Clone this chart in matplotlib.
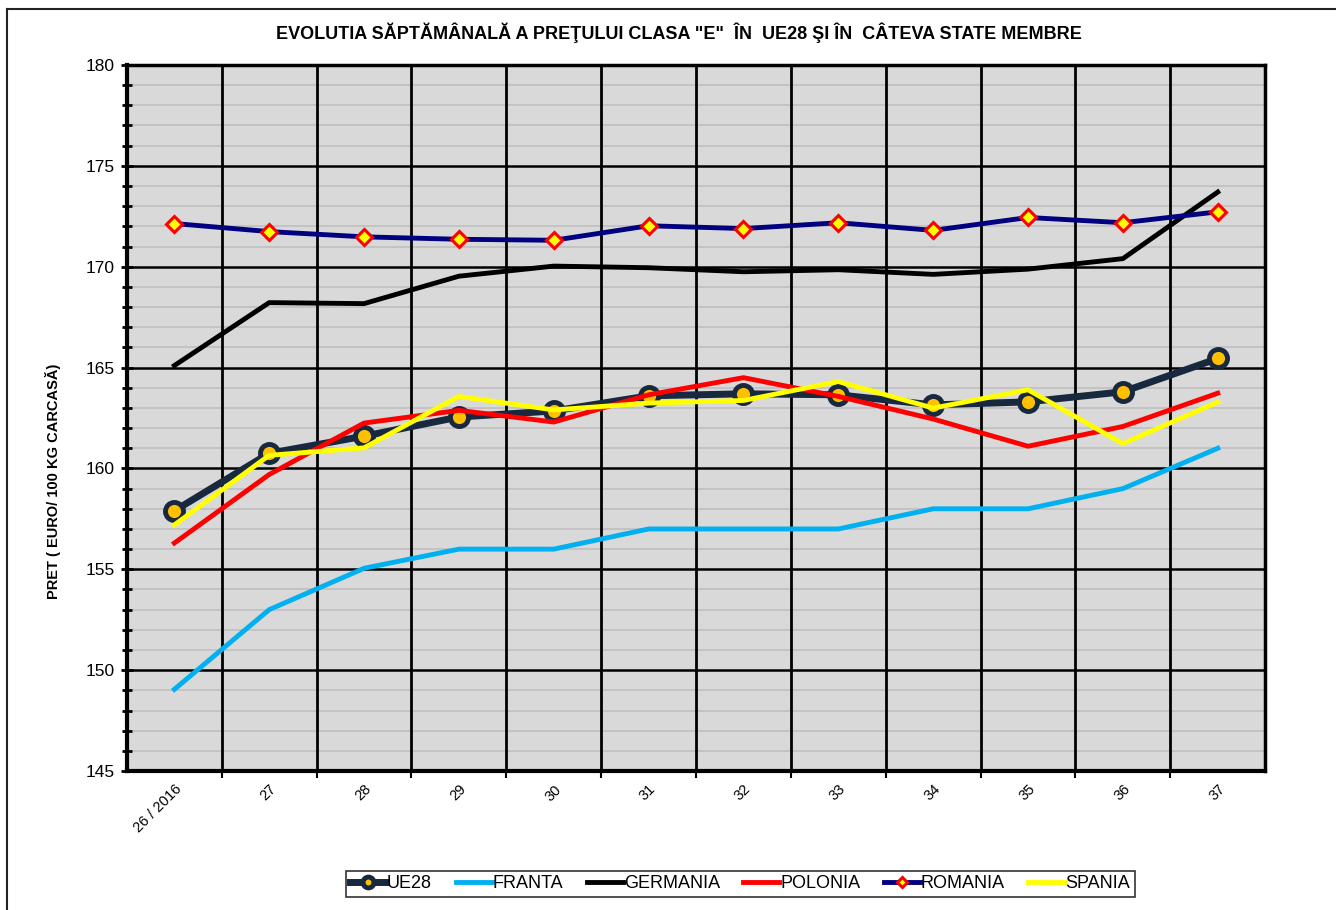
import matplotlib
matplotlib.use("Agg")
import matplotlib.pyplot as plt
from matplotlib.lines import Line2D
from matplotlib.ticker import MultipleLocator, FixedLocator

plt.rcParams['font.family'] = ['Liberation Sans', 'DejaVu Sans']

weeks = ["26 / 2016", "27", "28", "29", "30", "31", "32", "33", "34", "35", "36", "37"]
ue28 = [157.9, 160.75, 161.6, 162.55, 162.85, 163.6, 163.7, 163.65, 163.15, 163.3, 163.8, 165.45]
franta = [149.05, 153.0, 155.05, 156.0, 156.0, 157.0, 157.0, 157.0, 158.0, 158.0, 159.0, 161.0]
germania = [165.1, 168.22, 168.17, 169.53, 170.03, 169.95, 169.75, 169.85, 169.62, 169.88, 170.4, 173.7]
polonia = [156.3, 159.7, 162.25, 162.88, 162.3, 163.65, 164.5, 163.57, 162.45, 161.1, 162.08, 163.73]
romania = [172.14, 171.74, 171.48, 171.36, 171.31, 172.03, 171.89, 172.18, 171.8, 172.44, 172.18, 172.72]
spania = [157.2, 160.65, 161.02, 163.57, 162.9, 163.24, 163.37, 164.31, 162.99, 163.9, 161.23, 163.29]

x = list(range(len(weeks)))

fig = plt.figure(figsize=(13.36, 9.10), dpi=100)
ax = fig.add_axes([0.095, 0.1527, 0.852, 0.7759])
ax.set_facecolor("#d9d9d9")

ax.plot(x, ue28, color="#17283f", lw=5, marker="o", ms=13, mfc="#ffc000",
        mec="#17283f", mew=3.5, label="UE28", zorder=5)
ax.plot(x, franta, color="#00b0f0", lw=3.5, label="FRANTA", zorder=4)
ax.plot(x, germania, color="black", lw=3.5, label="GERMANIA", zorder=4)
ax.plot(x, polonia, color="#ff0000", lw=3.5, label="POLONIA", zorder=6)
ax.plot(x, romania, color="#000080", lw=3.5, marker="D", ms=8, mfc="#ffff00",
        mec="#ff0000", mew=2.2, label="ROMANIA", zorder=5)
ax.plot(x, spania, color="#ffff00", lw=3.5, label="SPANIA", zorder=7)

ax.set_xlim(-0.5, len(weeks) - 0.5)
ax.set_ylim(145, 180)

# y grid: minor light, major black
ax.yaxis.set_major_locator(MultipleLocator(5))
ax.yaxis.set_minor_locator(MultipleLocator(1))
ax.grid(axis="y", which="minor", color="#bfbfbf", lw=1.2, zorder=1)
ax.grid(axis="y", which="major", color="black", lw=1.8, zorder=2)
ax.tick_params(axis="y", which="major", direction="inout", length=8, width=2, labelsize=12.5, pad=5)
ax.tick_params(axis="y", which="minor", direction="inout", length=7, width=2)

# x: labels at categories, gridlines at boundaries
ax.set_xticks(x)
ax.set_xticklabels(weeks, rotation=45, ha="right", rotation_mode="anchor", fontsize=10.5)
ax.tick_params(axis="x", which="major", length=0, pad=8)
ax.xaxis.set_minor_locator(FixedLocator([i + 0.5 for i in x[:-1]]))
ax.tick_params(axis="x", which="minor", direction="out", length=5, width=1.5)
for b in [i + 0.5 for i in x[:-1]]:
    ax.axvline(b, color="black", lw=2, zorder=2)
ax.set_axisbelow(True)

for side in ["left", "bottom"]:
    ax.spines[side].set_linewidth(3)
for side in ["top", "right"]:
    ax.spines[side].set_linewidth(2.5)

ax.set_ylabel("PRET ( EURO/ 100 KG CARCASĂ)", fontsize=10.5, fontweight="bold")
ax.yaxis.set_label_coords(-0.058, 0.41)

fig.text(0.508, 0.964, 'EVOLUTIA SĂPTĂMÂNALĂ A PREŢULUI CLASA "E"  ÎN  UE28 ŞI ÎN  CÂTEVA STATE MEMBRE',
         ha="center", va="center", fontsize=13, fontweight="bold",
         family=["Liberation Sans Narrow", "Liberation Sans", "DejaVu Sans"])

leg = fig.legend(loc="center", bbox_to_anchor=(0.554, 0.0286), ncol=6, fontsize=13,
                 frameon=True, fancybox=False, edgecolor="black", handlelength=2.0,
                 handletextpad=0.05, columnspacing=1.3, borderpad=0.25, markerscale=0.6)
leg.get_frame().set_linewidth(1.2)

# outer frame lines (left and top only)
fig.add_artist(Line2D([0.0055, 0.0055], [0.0, 0.990], color="#222222", lw=1.5))
fig.add_artist(Line2D([0.0055, 1.0], [0.990, 0.990], color="#222222", lw=1.5))

fig.savefig("out.png", dpi=100)
